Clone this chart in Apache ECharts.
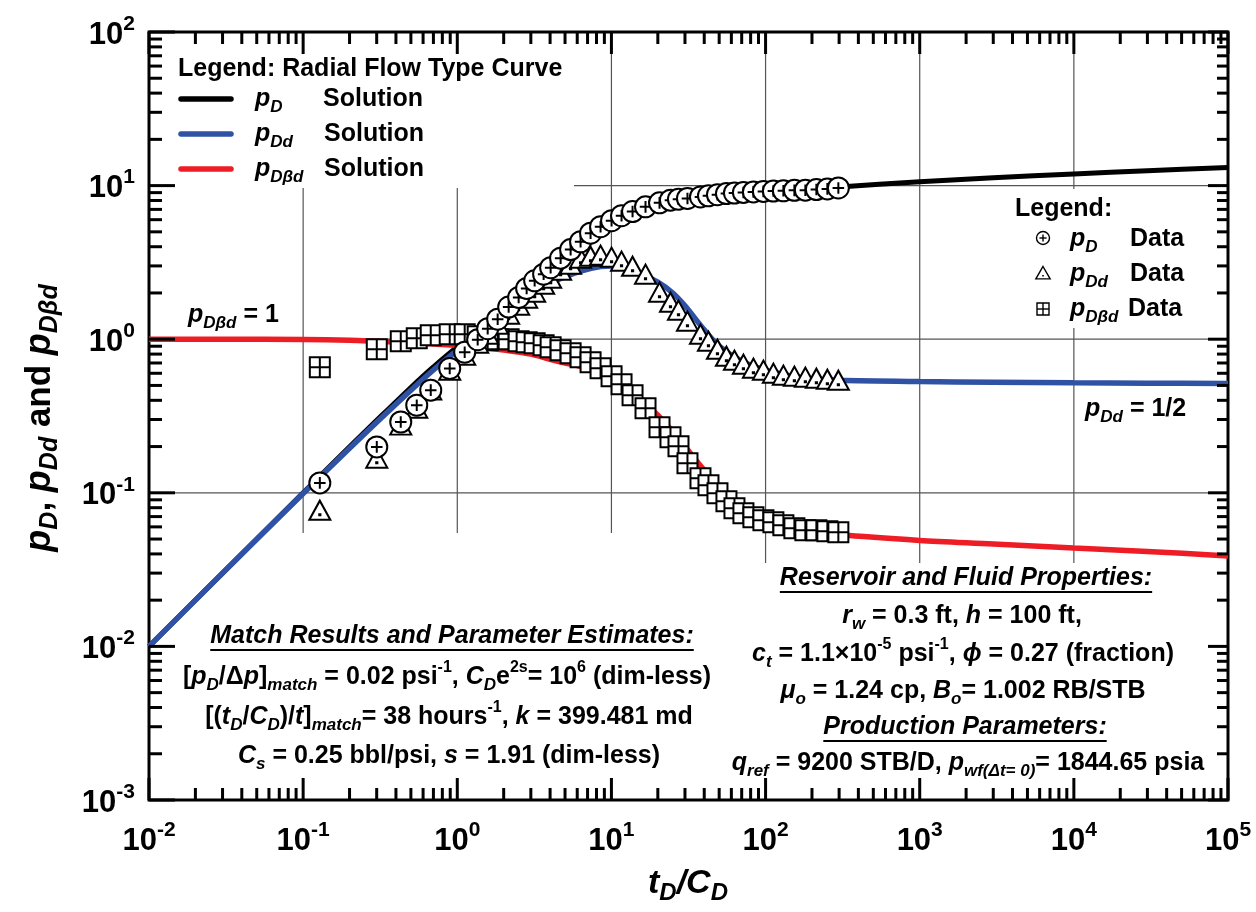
<!DOCTYPE html>
<html><head><meta charset="utf-8">
<script src="https://cdn.jsdelivr.net/npm/echarts@6/dist/echarts.min.js"></script>
<style>html,body{margin:0;padding:0;background:#fff}#c{width:1256px;height:912px}</style>
</head><body><div id="c"></div>
<script>
// ---------------- DATA ----------------
// Measured data (tD/CD) shared by the three data sets
const tData = [0.1283, 0.3004, 0.4298, 0.5458, 0.6727, 0.8931, 1.117, 1.356, 1.575, 1.828,
  2.154, 2.501, 2.818, 3.176, 3.632, 4.033, 4.681, 5.435, 6.308, 7.323,
  8.503, 10.02, 11.63, 13.71, 16.64, 20.51, 24.16, 27.23, 31.14, 37.82,
  42.61, 48.74, 55.74, 62.83, 71.84, 83.41, 96.83, 112.4, 130.5, 153.8,
  181.2, 213.6, 251.7, 296.6];
const pDData = [0.116, 0.199, 0.289, 0.372, 0.466, 0.645, 0.823, 0.993, 1.17, 1.35,
  1.62, 1.87, 2.14, 2.40, 2.65, 2.92, 3.37, 3.83, 4.31, 4.90,
  5.40, 5.91, 6.37, 6.78, 7.27, 7.72, 8.04, 8.16, 8.25, 8.44,
  8.58, 8.73, 8.87, 8.95, 9.03, 9.10, 9.17, 9.21, 9.25, 9.31,
  9.34, 9.42, 9.52, 9.66];
const pDdData = [0.077, 0.168, 0.276, 0.355, 0.466, 0.628, 0.787, 0.942, 1.078, 1.252,
  1.455, 1.665, 1.849, 2.023, 2.28, 2.495, 2.813, 3.078, 3.368, 3.47,
  3.523, 3.419, 3.22, 2.987, 2.65, 2.023, 1.741, 1.545, 1.31, 1.078,
  0.9705, 0.8606, 0.7749, 0.73, 0.6876, 0.6475, 0.6284, 0.6007, 0.583, 0.5744,
  0.5658, 0.5573, 0.549, 0.5408];
const pDbdData = [0.657, 0.861, 0.971, 1.015, 1.062, 1.078, 1.078, 1.046, 0.985, 1.0,
  1.0, 0.971, 0.956, 0.942, 0.914, 0.887, 0.848, 0.811, 0.763, 0.708,
  0.648, 0.574, 0.509, 0.432, 0.355, 0.267, 0.230, 0.201, 0.156, 0.1245,
  0.1121, 0.0994, 0.0882, 0.0794, 0.0737, 0.0694, 0.0663, 0.0644, 0.0615, 0.0588,
  0.0571, 0.0571, 0.0562, 0.0554];

// Type-curve solutions
const curveT = [0.01, 0.03, 0.1, 0.2, 0.3, 0.5, 0.7, 1, 1.5, 2, 3, 4, 5, 6.5, 8.5, 10, 12, 15, 20, 25,
  30, 40, 50, 70, 100, 150, 200, 300, 1000, 3000, 10000, 30000, 100000];
const pDCurve = [0.01, 0.03, 0.1, 0.199, 0.296, 0.485, 0.66, 0.89, 1.17, 1.5, 2.3, 2.95, 3.5, 4.3, 5.35, 5.9, 6.4, 7.0, 7.7, 8.0,
  8.2, 8.5, 8.75, 9.0, 9.17, 9.32, 9.45, 9.8, 10.6, 11.25, 11.9, 12.5, 13.1];
const pDdCurve = [0.01, 0.03, 0.099, 0.195, 0.288, 0.465, 0.63, 0.845, 1.13, 1.4, 1.88, 2.3, 2.55, 2.8, 2.97, 3.0, 2.9, 2.72, 2.35, 2.0,
  1.65, 1.15, 0.9, 0.72, 0.63, 0.575, 0.553, 0.54, 0.53, 0.525, 0.52, 0.517, 0.515];
const pDbdCurve = [1.0, 1.0, 0.995, 0.985, 0.97, 0.95, 0.93, 0.91, 0.88, 0.85, 0.8, 0.74, 0.70, 0.66, 0.6, 0.56, 0.5, 0.42, 0.32, 0.25,
  0.2, 0.14, 0.11, 0.085, 0.07, 0.061, 0.057, 0.0535, 0.049, 0.0465, 0.0437, 0.0415, 0.0388];

// Axis ticks
const xTickValues = [0.01, 0.1, 1, 10, 100, 1000, 10000, 100000];
const yTickValues = [0.001, 0.01, 0.1, 1, 10, 100];
const minorSteps = [2, 3, 4, 5, 6, 7, 8, 9];

// ---------------- STYLE ----------------
const FONT = '"Liberation Sans", Arial, Helvetica, sans-serif';
const BLUE = '#2f52a5', RED = '#ee1c25';
const X0 = xTickValues[0], X1 = xTickValues[xTickValues.length - 1];
const Y0 = yTickValues[0], Y1 = yTickValues[yTickValues.length - 1];

const SYM_CIRCLE = 'path://M10,0A10,10,0,1,1,-10,0A10,10,0,1,1,10,0ZM-5.5,0L5.5,0M0,-5.5L0,5.5';
const SYM_TRI = 'path://M0,-10L11.5,9L-11.5,9ZM-0.6,3.4L0.6,3.4L0.6,4.6L-0.6,4.6Z';
const SYM_SQ = 'path://M-10,-10L10,-10L10,10L-10,10ZM0,-10L0,10M-10,0L10,0';

const R = {
  n: {fontFamily: FONT, fontWeight: 'bold', fontSize: 25, lineHeight: 34, fill: '#000'},
  i: {fontFamily: FONT, fontWeight: 'bold', fontStyle: 'italic', fontSize: 25, lineHeight: 34, fill: '#000'},
  sb: {fontFamily: FONT, fontWeight: 'bold', fontStyle: 'italic', fontSize: 17, lineHeight: 14, verticalAlign: 'bottom', fill: '#000'},
  sp: {fontFamily: FONT, fontWeight: 'bold', fontSize: 16, lineHeight: 12, verticalAlign: 'top', fill: '#000'}
};
const R2 = {
  n: {fontFamily: FONT, fontWeight: 'bold', fontSize: 35, lineHeight: 46, fill: '#000'},
  i: {fontFamily: FONT, fontWeight: 'bold', fontStyle: 'italic', fontSize: 36, lineHeight: 46, fill: '#000'},
  sb: {fontFamily: FONT, fontWeight: 'bold', fontStyle: 'italic', fontSize: 25, lineHeight: 14, verticalAlign: 'bottom', fill: '#000'}
};
const R3 = {
  n: {fontFamily: FONT, fontWeight: 'bold', fontSize: 33, lineHeight: 42, fill: '#000'},
  i: {fontFamily: FONT, fontWeight: 'bold', fontStyle: 'italic', fontSize: 34, lineHeight: 42, fill: '#000'},
  sb: {fontFamily: FONT, fontWeight: 'bold', fontStyle: 'italic', fontSize: 24, lineHeight: 14, verticalAlign: 'bottom', fill: '#000'}
};

const _ctx = document.createElement('canvas').getContext('2d');
function textW(str, font) { _ctx.font = font; return _ctx.measureText(str).width; }

function zip(xs, ys) { return xs.map((x, i) => [x, ys[i]]); }

function txt(x, y, text, align, rich, extra) {
  return Object.assign({
    type: 'text', x: x, y: y, z: 30, silent: true,
    style: {text: text, rich: rich || R, align: align || 'center', verticalAlign: 'middle',
      textAlign: align || 'center', textVerticalAlign: 'middle', fill: '#000'}
  }, extra || {});
}
function hline(x1, x2, y, color, w, cap) {
  return {type: 'line', z: 30, silent: true, shape: {x1: x1, y1: y, x2: x2, y2: y},
    style: {stroke: color, lineWidth: w, lineCap: cap || 'butt'}};
}
function seg(x1, y1, x2, y2) {
  return {type: 'line', z: 31, silent: true, shape: {x1, y1, x2, y2}, style: {stroke: '#000', lineWidth: 1.4}};
}
function whiteRect(x, y, w, h) {
  return {type: 'rect', z: 2, silent: true, shape: {x: x, y: y, width: w, height: h}, style: {fill: '#fff', stroke: null}};
}
const MS = {fill: '#fff', stroke: '#000', lineWidth: 1.4};
function legCircle(cx, cy, r) {
  return [{type: 'circle', z: 30, silent: true, shape: {cx, cy, r}, style: MS},
    seg(cx - r * 0.55, cy, cx + r * 0.55, cy), seg(cx, cy - r * 0.55, cx, cy + r * 0.55)];
}
function legTri(cx, cy, s) {
  return [{type: 'polygon', z: 30, silent: true, shape: {points: [[cx, cy - s * 0.5], [cx + s * 0.55, cy + s * 0.45], [cx - s * 0.55, cy + s * 0.45]]}, style: MS},
    {type: 'rect', z: 31, silent: true, shape: {x: cx - 0.8, y: cy + s * 0.15, width: 1.6, height: 1.6}, style: {fill: '#000'}}];
}
function legSq(cx, cy, s) {
  const h = s / 2;
  return [{type: 'rect', z: 30, silent: true, shape: {x: cx - h, y: cy - h, width: s, height: s}, style: MS},
    seg(cx - h, cy, cx + h, cy), seg(cx, cy - h, cx, cy + h)];
}
function titleUnder(cx, cy, str) {
  const w = textW(str, 'italic bold 25px ' + FONT);
  return [txt(cx, cy, '{i|' + str + '}'), hline(cx - w / 2, cx + w / 2, cy + 14, '#000', 2)];
}

// ---------------- CHART ----------------
const chart = echarts.init(document.getElementById('c'), null, {renderer: 'canvas'});

const axisRich = {
  b: {fontFamily: FONT, fontWeight: 'bold', fontSize: 31, lineHeight: 37, verticalAlign: 'bottom', color: '#000'},
  s: {fontFamily: FONT, fontWeight: 'bold', fontSize: 21, lineHeight: 14, verticalAlign: 'top', color: '#000'}
};
function powLabel(v) { return '{b|10}{s|' + Math.round(Math.log10(v)) + '}'; }

function gridRender(params, api) {
  if (params.dataIndex !== 0) return;
  const ch = [];
  const st = {stroke: '#555', lineWidth: 1.2};
  xTickValues.slice(1, -1).forEach(v => {
    const a = api.coord([v, Y0]), b = api.coord([v, Y1]);
    ch.push({type: 'line', shape: {x1: a[0], y1: a[1], x2: b[0], y2: b[1]}, style: st});
  });
  yTickValues.slice(1, -1).forEach(v => {
    const a = api.coord([X0, v]), b = api.coord([X1, v]);
    ch.push({type: 'line', shape: {x1: a[0], y1: a[1], x2: b[0], y2: b[1]}, style: st});
  });
  return {type: 'group', children: ch};
}

function tickRender(params, api) {
  if (params.dataIndex !== 0) return;
  const ch = [];
  const L = (x1, y1, x2, y2) => ch.push({type: 'line', shape: {x1, y1, x2, y2}, style: {stroke: '#000', lineWidth: 3}});
  const top = api.coord([X0, Y1])[1], bottom = api.coord([X0, Y0])[1];
  const left = api.coord([X0, Y0])[0], right = api.coord([X1, Y0])[0];
  xTickValues.forEach((v, i) => {
    const x = api.coord([v, Y0])[0];
    L(x, bottom, x, bottom - 22); L(x, top, x, top + 22);
    if (i < xTickValues.length - 1) minorSteps.forEach(m => {
      const xm = api.coord([v * m, Y0])[0];
      L(xm, bottom, xm, bottom - 12); L(xm, top, xm, top + 12);
    });
  });
  yTickValues.forEach((v, i) => {
    const y = api.coord([X0, v])[1];
    L(left, y, left + 26, y); L(right, y, right - 20, y);
    if (i < yTickValues.length - 1) minorSteps.forEach(m => {
      const ym = api.coord([X0, v * m])[1];
      L(left, ym, left + 13, ym); L(right, ym, right - 11, ym);
    });
  });
  return {type: 'group', children: ch};
}

const graphics = [
  // white boxes behind annotations (hide grid lines)
  whiteRect(151, 34, 423, 154),
  whiteRect(1005, 189, 220, 139),
  whiteRect(151, 533, 579, 265),
  whiteRect(730, 563, 495, 235),

  // top-left legend
  txt(178, 69, '{n|Legend: Radial Flow Type Curve}', 'left'),
  hline(181, 231, 99, '#000', 5.5, 'round'),
  hline(181, 231, 134, BLUE, 5.5, 'round'),
  hline(181, 231, 169, RED, 5.5, 'round'),
  txt(255, 99, '{i|p}{sb|D}', 'left'),
  txt(255, 134, '{i|p}{sb|Dd}', 'left'),
  txt(255, 169, '{i|p}{sb|D\u03b2d}', 'left'),
  txt(323, 99, '{n|Solution}', 'left'),
  txt(324, 134, '{n|Solution}', 'left'),
  txt(324, 169, '{n|Solution}', 'left'),

  // right legend
  txt(1015, 209, '{n|Legend:}', 'left'),
  ...legCircle(1043, 238, 6.5),
  ...legTri(1043, 273, 13),
  ...legSq(1043, 309, 12),
  txt(1070, 239, '{i|p}{sb|D}', 'left'),
  txt(1070, 274, '{i|p}{sb|Dd}', 'left'),
  txt(1070, 309, '{i|p}{sb|D\u03b2d}', 'left'),
  txt(1130, 239, '{n|Data}', 'left'),
  txt(1130, 274, '{n|Data}', 'left'),
  txt(1128, 309, '{n|Data}', 'left'),

  // curve annotations
  txt(188, 315, '{i|p}{sb|D\u03b2d}{n| = 1}', 'left'),
  txt(1085, 409, '{i|p}{sb|Dd}{n| = 1/2}', 'left'),

  // match results block
  ...titleUnder(452, 636, 'Match Results and Parameter Estimates:'),
  txt(447, 677, '{n|[}{i|p}{sb|D}{n|/\u0394}{i|p}{n|]}{sb|match}{n| = 0.02 psi}{sp|-1}{n|, }{i|C}{sb|D}{n|e}{sp|2s}{n|= 10}{sp|6}{n| (dim-less)}'),
  txt(449, 717, '{n|[(}{i|t}{sb|D}{n|/}{i|C}{sb|D}{n|)/}{i|t}{n|]}{sb|match}{n|= 38 hours}{sp|-1}{n|, }{i|k}{n| = 399.481 md}'),
  txt(449, 756, '{i|C}{sb|s}{n| = 0.25 bbl/psi, }{i|s}{n| = 1.91 (dim-less)}'),

  // reservoir block
  ...titleUnder(966, 578, 'Reservoir and Fluid Properties:'),
  txt(962, 616, '{i|r}{sb|w}{n| = 0.3 ft, }{i|h}{n| = 100 ft,}'),
  txt(963, 654, '{i|c}{sb|t}{n| = 1.1\u00d710}{sp|-5}{n| psi}{sp|-1}{n|, }{i|\u03d5}{n| = 0.27 (fraction)}'),
  txt(963, 691, '{i|\u03bc}{sb|o}{n| = 1.24 cp, }{i|B}{sb|o}{n|= 1.002 RB/STB}'),
  ...titleUnder(965, 727, 'Production Parameters:'),
  txt(968, 763, '{i|q}{sb|ref}{n| = 9200 STB/D, }{i|p}{sb|wf(\u0394t= 0)}{n|= 1844.65 psia}'),

  // axis titles
  txt(40, 418, '{i|p}{sb|D}{n|, }{i|p}{sb|Dd}{n| and }{i|p}{sb|D\u03b2d}', 'center', R2, {rotation: Math.PI / 2}),
  txt(688, 884, '{i|t}{sb|D}{i|/C}{sb|D}', 'center', R3)
];

const option = {
  animation: false,
  backgroundColor: '#fff',
  grid: {left: 149, right: 28, top: 32, bottom: 112, show: true, borderColor: '#000', borderWidth: 3, backgroundColor: 'transparent'},
  xAxis: {
    type: 'log', logBase: 10, min: X0, max: X1, splitNumber: 7,
    axisLine: {show: false}, axisTick: {show: false}, splitLine: {show: false},
    axisLabel: {show: true, interval: 0, margin: 20, showMinLabel: true, showMaxLabel: true, formatter: powLabel, rich: axisRich}
  },
  yAxis: {
    type: 'log', logBase: 10, min: Y0, max: Y1, splitNumber: 5,
    axisLine: {show: false}, axisTick: {show: false}, splitLine: {show: false},
    axisLabel: {show: true, interval: 0, margin: 14, showMinLabel: true, showMaxLabel: true, formatter: powLabel, rich: axisRich}
  },
  graphic: {elements: graphics},
  series: [
    {type: 'custom', z: 1, silent: true, data: [[1, 1]], renderItem: gridRender},
    {type: 'line', name: 'pD Solution', z: 3, data: zip(curveT, pDCurve), showSymbol: false, symbol: 'none', smooth: 0.3,
      lineStyle: {color: '#000', width: 5}, clip: true},
    {type: 'line', name: 'pDd Solution', z: 4, data: zip(curveT, pDdCurve), showSymbol: false, symbol: 'none', smooth: 0.3,
      lineStyle: {color: BLUE, width: 5.5}, clip: true},
    {type: 'line', name: 'pDbd Solution', z: 4, data: zip(curveT, pDbdCurve), showSymbol: false, symbol: 'none', smooth: 0.3,
      lineStyle: {color: RED, width: 5.5}, clip: true},
    {type: 'scatter', name: 'pDbd Data', z: 6, data: zip(tData, pDbdData), symbol: SYM_SQ, symbolSize: [20, 20],
      itemStyle: {color: '#fff', borderColor: '#000', borderWidth: 2, opacity: 1}},
    {type: 'scatter', name: 'pDd Data', z: 7, data: zip(tData, pDdData), symbol: SYM_TRI, symbolSize: [21, 19],
      itemStyle: {color: '#fff', borderColor: '#000', borderWidth: 2, opacity: 1}},
    {type: 'scatter', name: 'pD Data', z: 8, data: zip(tData, pDData), symbol: SYM_CIRCLE, symbolSize: [21, 21],
      itemStyle: {color: '#fff', borderColor: '#000', borderWidth: 2, opacity: 1}},
    {type: 'custom', z: 20, silent: true, data: [[1, 1]], renderItem: tickRender}
  ]
};
chart.setOption(option);
</script>
</body></html>
